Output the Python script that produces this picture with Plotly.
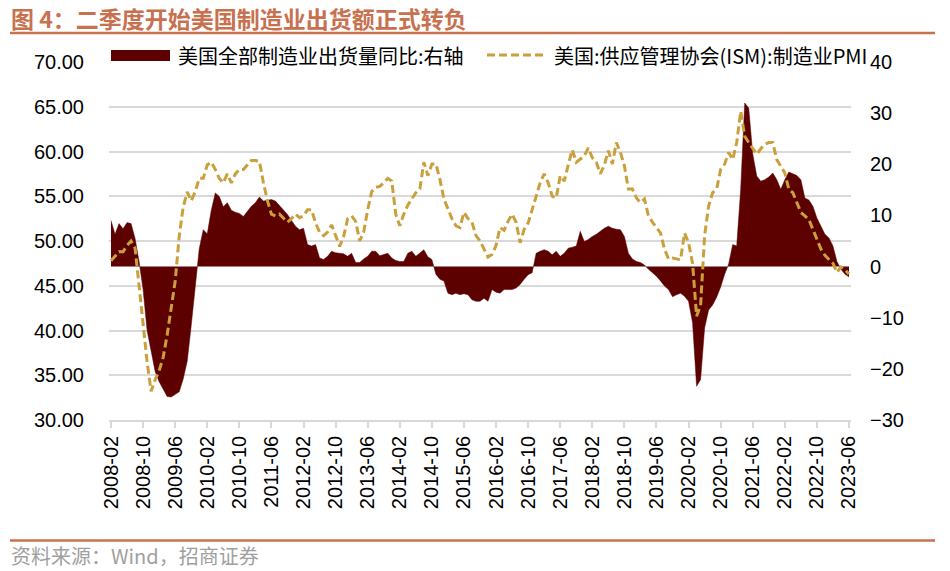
import plotly.graph_objects as go
import pandas as pd

# ---- data ----
months = pd.date_range("2008-02-01", "2023-06-01", freq="MS").strftime("%Y-%m").tolist()

shipments_yoy = [
    9.0, 6.3, 8.4, 7.4, 8.6, 8.4, 5.5, 1.0, -4.5, -12.5,
    -16.5, -20.5, -22.5, -24.0, -25.4, -25.5, -25.0, -24.5, -22.0, -18.5,
    -11.5, -4.0, 3.5, 7.2, 6.4, 11.0, 14.4, 13.7, 11.7, 12.5,
    11.0, 10.6, 10.4, 9.8, 10.8, 11.8, 12.5, 13.6, 12.8, 13.0,
    13.1, 12.8, 12.0, 11.0, 10.2, 9.0, 7.9, 7.2, 7.5, 4.3,
    4.0, 4.3, 1.7, 1.4, 2.0, 3.0, 2.7, 2.6, 2.5, 2.0,
    2.6, 0.8, 0.8, 1.5, 2.0, 3.0, 3.0, 2.1, 2.3, 2.6,
    1.7, 1.2, 1.0, 1.0, 2.6, 3.0, 2.0, 2.6, 3.3, 1.9,
    1.4, -1.5, -2.5, -2.8, -5.2, -5.5, -5.2, -5.5, -5.3, -5.5,
    -6.5, -6.8, -6.8, -6.2, -6.8, -4.5, -5.0, -5.2, -4.5, -4.5,
    -4.5, -4.2, -3.5, -2.5, -1.6, -1.2, 2.6, 3.0, 3.3, 3.0,
    2.3, 3.0, 2.0, 2.6, 3.6, 3.8, 4.0, 6.9, 4.9, 5.3,
    5.9, 6.3, 6.9, 7.5, 7.9, 7.5, 7.3, 7.2, 5.9, 2.6,
    1.5, 1.0, 0.8, 0.3, -0.5, -1.2, -1.9, -2.8, -3.8, -4.5,
    -5.9, -5.5, -5.2, -5.8, -6.8, -11.0, -23.4, -22.1, -12.0, -8.5,
    -7.5, -6.0, -4.0, -1.5, 0.5, 4.3, 4.0, 15.1, 32.0, 31.0,
    22.0, 17.7, 16.7, 17.0, 17.5, 18.3, 17.0, 15.1, 17.0, 18.5,
    18.2, 17.8, 17.0, 13.4, 13.0, 11.8, 9.5, 8.0, 6.3, 5.6,
    4.0, 1.0, -0.5, -1.5, -2.0,
]

ism_pmi = [
    47.8, 48.3, 48.8, 48.8, 49.5, 50.0, 49.2, 45.0, 40.5, 36.5,
    33.2, 34.5, 35.5, 37.0, 39.5, 42.5, 45.5, 50.5, 53.8, 55.5,
    54.5, 55.5, 57.0, 57.0, 58.5, 58.8, 58.0, 57.0, 56.5, 57.5,
    56.5, 57.5, 58.0, 58.0, 58.5, 59.0, 59.0, 58.9, 56.5, 54.5,
    53.0, 52.8, 53.0, 52.5, 52.1, 52.5, 53.0, 52.6, 52.8, 53.5,
    53.5, 52.0, 51.0, 50.6, 51.0, 51.8, 50.5, 49.4, 50.5, 52.5,
    52.8, 52.2, 50.0, 51.0, 53.5, 55.5, 56.0, 56.1, 56.5, 57.0,
    56.7, 53.0, 51.7, 53.0, 54.0, 54.7, 55.4, 55.8, 58.8, 57.3,
    58.6, 58.6, 56.9, 54.7, 53.5, 52.5, 51.7, 51.5, 53.2, 52.5,
    52.1, 50.6, 50.0, 49.0, 48.2, 48.5, 49.5, 51.5, 51.2, 52.2,
    53.0, 52.1, 49.8, 51.3, 52.0, 53.5, 55.0, 56.5, 57.5, 56.5,
    55.0, 54.8, 57.3, 56.7, 58.5, 60.2, 58.8, 59.1, 59.5, 60.4,
    59.3, 58.8, 57.5, 58.5, 60.1, 58.6, 61.0, 59.9, 58.4, 55.8,
    55.8, 54.8, 54.3, 54.7, 52.8, 52.1, 51.5, 50.9, 49.1, 48.0,
    48.1, 48.0, 47.9, 50.9, 49.8, 47.5, 41.6, 42.8, 50.6, 53.9,
    55.4, 55.8, 58.0, 58.6, 59.9, 59.1, 61.0, 64.5, 61.7, 61.0,
    60.4, 59.7, 60.3, 60.8, 61.0, 61.0, 59.1, 58.4, 57.6, 55.8,
    55.4, 54.3, 53.2, 52.8, 52.4, 51.3, 50.2, 49.1, 48.4, 48.0,
    47.5, 46.5, 47.1, 46.8, 46.3,
]

tick_labels = months[::8]

bar_name = "美国全部制造业出货量同比:右轴"
line_name = "美国:供应管理协会(ISM):制造业PMI"
title_text = "图 4：二季度开始美国制造业出货额正式转负"
source_text = "资料来源：Wind，招商证券"

# ---- style ----
BAR_COLOR = "#5C0000"
LINE_COLOR = "#C9A03C"
ACCENT = "#C8714F"
GRID = "#D9D9D9"
CJK = "Noto Sans CJK SC"
LATIN = "Liberation Sans, Arial, sans-serif"

fig = go.Figure()
fig.add_trace(go.Scatter(
    x=months, y=shipments_yoy, name=bar_name, yaxis="y",
    mode="lines", fill="tozeroy", fillcolor=BAR_COLOR,
    line=dict(color=BAR_COLOR, width=0.5),
    showlegend=False,
))
fig.add_trace(go.Scatter(
    x=months, y=ism_pmi, name=line_name, yaxis="y2", mode="lines",
    line=dict(color=LINE_COLOR, width=3, dash="8px,4px"),
    showlegend=False,
))

# plot area in pixels: x 109..851, y 62..420
L, R, T, B = 109, 851, 62, 420
W, H = 950, 571


def px(xp):
    return (xp - L) / (R - L)


def py(yp):
    return (B - yp) / (B - T)


fig.update_layout(
    width=W, height=H,
    margin=dict(l=L, r=W - R, t=T, b=H - B, pad=0),
    paper_bgcolor="white", plot_bgcolor="white",
    showlegend=False,
    xaxis=dict(
        type="category", range=[-0.5, len(months) - 0.5],
        tickmode="array", tickvals=tick_labels, ticktext=tick_labels,
        tickangle=-90, tickfont=dict(family=LATIN, size=20, color="black"),
        ticks="outside", ticklen=6, tickcolor=GRID, tickwidth=1.5,
        showline=True, linecolor=GRID, linewidth=1.5,
        showgrid=False, zeroline=False,
    ),
    yaxis=dict(
        side="right", range=[-30, 40], dtick=10, tick0=0,
        tickfont=dict(family=LATIN, size=20, color="black"),
        showgrid=False, zeroline=False, showline=False, ticks="",
        ticklabelstandoff=18,
    ),
    yaxis2=dict(
        side="left", overlaying="y", anchor="x", range=[30, 70], dtick=5, tick0=30,
        tickformat=".2f", tickfont=dict(family=LATIN, size=20, color="black"),
        showgrid=True, gridcolor=GRID, gridwidth=1.5,
        zeroline=False, showline=False, ticks="",
        ticklabelstandoff=24,
    ),
)

shapes = [
    # title rule
    dict(type="line", xref="paper", yref="paper", x0=px(10), x1=px(935), y0=py(33), y1=py(33),
         line=dict(color=ACCENT, width=2.5)),
    # footer rule
    dict(type="line", xref="paper", yref="paper", x0=px(10), x1=px(935), y0=py(540.5), y1=py(540.5),
         line=dict(color=ACCENT, width=2.5)),
    # legend swatches
    dict(type="rect", xref="paper", yref="paper", x0=px(111), x1=px(170), y0=py(61), y1=py(50),
         fillcolor=BAR_COLOR, line=dict(width=0)),
    dict(type="line", xref="paper", yref="paper", x0=px(487), x1=px(547), y0=py(55), y1=py(55),
         line=dict(color=LINE_COLOR, width=3, dash="8px,4px")),
]

annotations = [
    dict(text=f"<b>{title_text}</b>", xref="paper", yref="paper", x=px(9), y=py(17.5),
         xanchor="left", yanchor="middle", showarrow=False,
         font=dict(family=CJK, size=23, color=ACCENT)),
    dict(text=source_text, xref="paper", yref="paper", x=px(9), y=py(555),
         xanchor="left", yanchor="middle", showarrow=False,
         font=dict(family=CJK, size=20, color="#A0A0A0")),
    dict(text=bar_name, xref="paper", yref="paper", x=px(176), y=py(55),
         xanchor="left", yanchor="middle", showarrow=False,
         font=dict(family=CJK, size=20, color="black")),
    dict(text=line_name, xref="paper", yref="paper", x=px(552), y=py(55),
         xanchor="left", yanchor="middle", showarrow=False,
         font=dict(family=CJK, size=20, color="black")),
]

fig.update_layout(shapes=shapes, annotations=annotations)

fig.write_html(
    "out.html",
    config={"displayModeBar": False},
    post_script="document.body.style.margin='0';document.body.style.padding='0';",
)
